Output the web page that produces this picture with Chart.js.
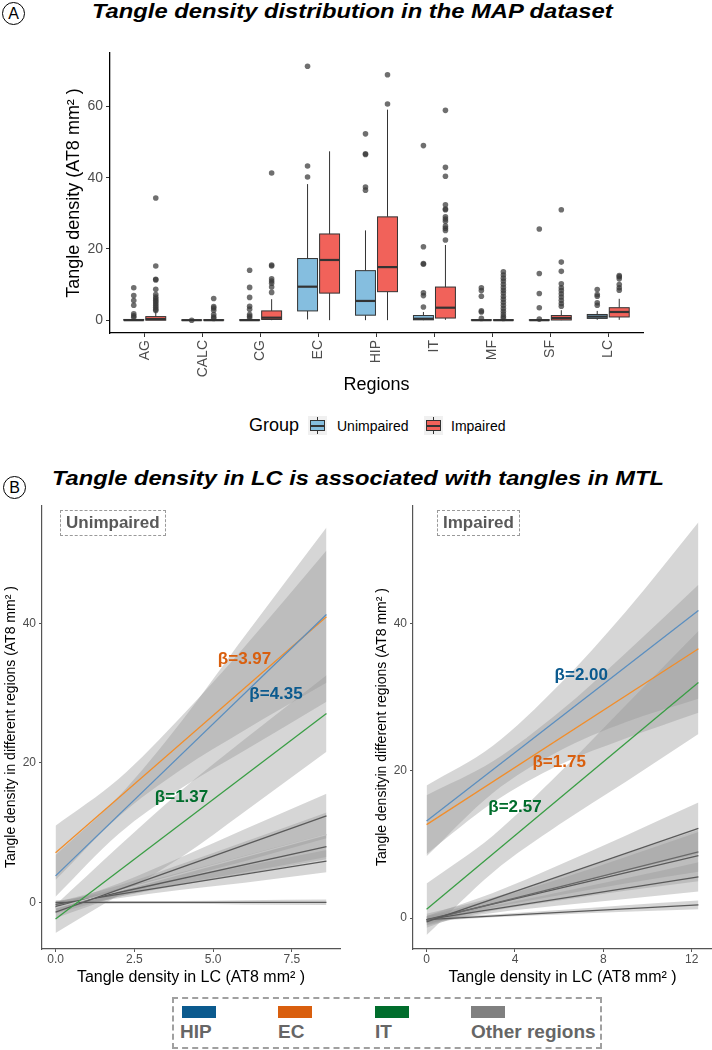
<!DOCTYPE html>
<html>
<head>
<meta charset="utf-8">
<script src="https://cdn.jsdelivr.net/npm/chart.js@4.4.1/dist/chart.umd.min.js"></script>
<style>
  body { margin: 0; background: #fff; font-family: "Liberation Sans", Arial, sans-serif; }
  #page { position: relative; width: 712px; height: 1050px; overflow: hidden; background: #fff; }
  canvas { position: absolute; }
  .circ { position: absolute; width: 21px; height: 21px; border: 1px solid #000; border-radius: 50%;
          font-size: 16px; line-height: 21px; text-align: center; }
  .title { position: absolute; font-weight: bold; font-style: italic; font-size: 21px; line-height: 22px;
           white-space: nowrap; transform-origin: 0 0; }
  .txt { position: absolute; white-space: nowrap; }
  .key { position: absolute; width: 19px; height: 19px; background: #f0f0f0; }
  .key .wh { position: absolute; left: 9px; top: 1px; width: 1px; height: 17px; background: #333; }
  .key .bx { position: absolute; left: 2px; top: 4px; width: 13px; height: 9px; border: 1px solid #333; }
  .key .md { position: absolute; left: 2px; top: 9px; width: 15px; height: 1.5px; background: #333; }
  .tag { position: absolute; border: 1.3px dashed #9a9a9a; color: #595959; font-weight: bold;
         font-size: 17px; line-height: 20px; padding: 2px 5px; white-space: nowrap; }
  .legbox { position: absolute; left: 172px; top: 997px; width: 426px; height: 48px; border: 2px dashed #a0a0a0; }
  .sw { position: absolute; width: 34px; height: 12px; top: 1006px; }
  .lab { position: absolute; top: 1021px; font-weight: bold; font-size: 19px; color: #666; white-space: nowrap; }
</style>
</head>
<body>
<div id="page">
  <div class="circ" style="left:2px;top:2px;">A</div>
  <div class="title" id="titleA" style="left:92px;top:0px;">Tangle density distribution in the MAP dataset</div>
  <canvas id="boxChart" width="712" height="360" style="left:0;top:40px;"></canvas>

  <div class="txt" style="left:249px;top:415px;font-size:18px;">Group</div>
  <div class="key" style="left:308px;top:416px;"><div class="wh"></div><div class="bx" style="background:#85BEDF"></div><div class="md"></div></div>
  <div class="txt" style="left:337px;top:418px;font-size:14px;">Unimpaired</div>
  <div class="key" style="left:424px;top:416px;"><div class="wh"></div><div class="bx" style="background:#F1625A"></div><div class="md"></div></div>
  <div class="txt" style="left:451px;top:418px;font-size:14px;">Impaired</div>

  <div class="circ" style="left:3px;top:476px;">B</div>
  <div class="title" id="titleB" style="left:52px;top:467px;">Tangle density in LC is associated with tangles in MTL</div>
  <canvas id="unimpChart" width="360" height="495" style="left:0;top:495px;"></canvas>
  <canvas id="impChart" width="352" height="495" style="left:360px;top:495px;"></canvas>
  <div class="tag" style="left:60px;top:510px;">Unimpaired</div>
  <div class="tag" style="left:437px;top:510px;">Impaired</div>

  <div class="legbox"></div>
  <div class="sw" style="left:182px;background:#0B5A8E;"></div>
  <div class="sw" style="left:278px;background:#D95F0E;"></div>
  <div class="sw" style="left:375px;background:#006D2C;"></div>
  <div class="sw" style="left:471px;background:#808080;"></div>
  <div class="lab" style="left:180px;">HIP</div>
  <div class="lab" style="left:278px;">EC</div>
  <div class="lab" style="left:375px;">IT</div>
  <div class="lab" style="left:471px;">Other regions</div>
</div>

<script>
// ---- Panel A: box plot statistics per region ----
const regions = ['AG', 'CALC', 'CG', 'EC', 'HIP', 'IT', 'MF', 'SF', 'LC'];

const unimpLow  = [0, 0, 0, 0.2, 0, 0, 0, 0, 0.1];
const unimpQ1   = [0, 0, 0, 2.6, 1.4, 0.1, 0, 0, 0.5];
const unimpMed  = [0, 0, 0, 9.4, 5.4, 0.4, 0, 0, 1.0];
const unimpQ3   = [0.2, 0.05, 0.1, 17.3, 13.9, 1.3, 0.1, 0.1, 1.6];
const unimpHigh = [0.4, 0.1, 0.2, 38.2, 25.2, 2.3, 0.2, 0.2, 2.6];

const impLow  = [0, 0, 0, 0, 0, 0.1, 0, 0, 0.1];
const impQ1   = [0, 0, 0.2, 7.6, 8.0, 0.6, 0, 0.05, 0.9];
const impMed  = [0.3, 0, 0.7, 16.9, 14.9, 3.5, 0, 0.6, 2.3];
const impQ3   = [1.0, 0.1, 2.6, 24.2, 29.0, 9.3, 0.1, 1.3, 3.5];
const impHigh = [2.4, 0.2, 5.9, 47.4, 59.1, 21.1, 0.2, 2.8, 6.0];

const unimpOutliers = [
  [9.1, 6.9, 5.5, 4.2, 1.8, 1.2, 0.8],
  [0],
  [14.0, 9.2, 6.4, 3.9, 3.1, 1.6, 1.1, 0.6],
  [40.2, 43.3, 71.3],
  [52.3, 46.7, 46.5, 37.4, 36.5],
  [3.7, 6.9, 7.7, 15.9, 15.7, 20.6, 49.0],
  [9.1, 8.3, 6.7, 2.6, 2.3, 0.5],
  [25.6, 13.1, 7.5, 3.5, 0.3],
  [8.6, 7.2, 6.7, 4.9, 4.2]
];
const impOutliers = [
  [34.3, 15.2, 11.5, 11.3, 8.7, 7.2, 6.5, 6.0, 5.5, 5.1, 4.6, 4.1, 3.6, 3.1, 2.7],
  [6.1, 3.8, 3.4, 2.8, 1.6, 0.9, 0.5],
  [41.3, 15.5, 15.2, 11.6, 11.0, 10.4, 9.3, 7.8],
  [],
  [60.7, 68.9],
  [22.5, 25.2, 25.8, 26.4, 27.8, 28.4, 29.0, 31.0, 31.2, 32.4, 40.4, 42.9, 58.9],
  [13.6, 12.7, 11.8, 11.0, 10.1, 9.2, 8.4, 7.6, 6.7, 5.9, 5.0, 4.2, 3.3, 2.5, 1.7, 1.0, 0.5],
  [31.0, 16.3, 13.7, 10.2, 9.1, 8.3, 7.4, 6.5, 5.6, 4.7, 3.9],
  [12.5, 12.2, 11.6, 10.0, 9.1, 8.4]
];
const boxTicks = [0, 20, 40, 60];

// ---- Panel B: fitted lines and confidence bands ----
// order: HIP, EC, IT, then five other regions
const unimpX = [0, 2, 4, 6, 8.6];
const unimpFitStart = [3.8, 7.1, -2.4, -1.4, -0.8, -0.6, -0.3, 0];
const unimpFitEnd   = [41.3, 41.0, 27.1, 12.4, 9.7, 8.0, 5.9, 0];
const unimpBandLow = [
  [0.8, 9.8, 16.4, 21.8, 28.8],
  [3.2, 12.3, 19.1, 24.7, 31.5],
  [-4.4, 1.0, 6.5, 13.0, 21.6],
  [-2.3, 0.9, 3.5, 5.9, 9.2],
  [-1.6, 0.8, 2.7, 4.3, 6.5],
  [-1.2, 0.8, 2.5, 4.1, 6.2],
  [-0.8, 0.6, 1.8, 2.8, 4.3],
  [-0.3, -0.2, -0.2, -0.3, -0.4]
];
const unimpBandHigh = [
  [6.8, 15.2, 26.0, 38.2, 53.8],
  [11.0, 17.7, 26.7, 36.7, 50.5],
  [-0.4, 8.0, 16.1, 23.4, 32.6],
  [-0.5, 2.7, 6.5, 10.5, 15.6],
  [0, 2.4, 5.5, 8.7, 12.9],
  [0, 2.0, 4.3, 6.7, 9.8],
  [0.2, 1.6, 3.4, 5.2, 7.5],
  [0.3, 0.2, 0.2, 0.3, 0.4]
];

const impX = [0, 3, 6, 9, 12.3];
const impFitStart = [13.2, 12.7, 1.2, -0.5, -0.3, -0.2, -0.2, -0.2];
const impFitEnd   = [41.8, 36.6, 32.0, 12.2, 9.0, 8.5, 5.6, 1.8];
const impBandLow = [
  [8.4, 17.0, 22.7, 26.6, 29.8],
  [8.7, 15.7, 20.8, 24.4, 27.9],
  [-2.3, 6.2, 12.7, 18.5, 25.0],
  [-1.3, 1.8, 4.2, 6.4, 8.7],
  [-0.9, 1.4, 3.1, 4.7, 6.3],
  [-1.0, 1.0, 2.4, 3.7, 5.0],
  [-0.7, 0.7, 1.7, 2.6, 3.6],
  [-0.5, 0.1, 0.5, 0.85, 1.2]
];
const impBandHigh = [
  [18.0, 23.4, 31.7, 41.6, 53.8],
  [16.7, 21.3, 28.0, 36.0, 45.3],
  [4.7, 11.2, 19.7, 28.9, 39.0],
  [0.3, 3.4, 7.2, 11.2, 15.7],
  [0.3, 2.6, 5.3, 8.3, 11.7],
  [0.6, 2.8, 5.6, 8.7, 12.0],
  [0.3, 1.7, 3.5, 5.4, 7.6],
  [0.1, 0.5, 1.1, 1.75, 2.4]
];

const unimpBetaText = ['β=4.35', 'β=3.97', 'β=1.37'];
const unimpBetaAt = [[7.0, 29.9], [6.0, 34.9], [4.0, 15.1]];
const impBetaText = ['β=2.00', 'β=1.75', 'β=2.57'];
const impBetaAt = [[7.0, 33.0], [6.0, 21.1], [4.0, 15.0]];

const unimpXTicks = [0, 2.5, 5, 7.5];
const impXTicks = [0, 4, 8, 12];
const fitYTicks = [0, 20, 40];

// styles
const betaColors = ['#0B5A8E', '#D95F0E', '#006D2C'];
const unimpLineColors = ['#5B8FC0', '#F28E2B', '#3A9E45', '#5a5a5a', '#c4c4c4', '#5a5a5a', '#5a5a5a', '#5a5a5a'];
const impLineColors = ['#5B8FC0', '#F28E2B', '#3A9E45', '#5a5a5a', '#6a6a6a', '#5a5a5a', '#5a5a5a', '#5a5a5a'];
const bandFill = 'rgba(153,153,153,0.4)';
const FONT = '"Liberation Sans", Arial, sans-serif';

Chart.defaults.font.family = FONT;
Chart.defaults.animation = false;

// stretch the two panel titles to the width they take in the figure
function fitTitle(id, width) {
  const el = document.getElementById(id);
  el.style.transform = 'scaleX(' + (width / el.offsetWidth) + ')';
}
fitTitle('titleA', 520);
fitTitle('titleB', 612);

// ---- Panel A ----
const groups = [
  { shift: -0.19, fill: '#85BEDF', low: unimpLow, q1: unimpQ1, med: unimpMed, q3: unimpQ3, high: unimpHigh },
  { shift: 0.19, fill: '#F1625A', low: impLow, q1: impQ1, med: impMed, q3: impQ3, high: impHigh }
];

const boxPlugin = {
  id: 'boxes',
  afterDatasetsDraw(chart) {
    const { ctx, scales: { x, y } } = chart;
    const half = x.getPixelForValue(0.172) - x.getPixelForValue(0);
    ctx.save();
    ctx.strokeStyle = '#333';
    groups.forEach(g => {
      regions.forEach((r, i) => {
        const cx = x.getPixelForValue(i + g.shift);
        const yLow = y.getPixelForValue(g.low[i]);
        const yQ1 = y.getPixelForValue(g.q1[i]);
        const yMed = y.getPixelForValue(g.med[i]);
        const yQ3 = y.getPixelForValue(g.q3[i]);
        const yHigh = y.getPixelForValue(g.high[i]);
        ctx.lineWidth = 1;
        ctx.beginPath();
        ctx.moveTo(cx, yLow); ctx.lineTo(cx, yQ1);
        ctx.moveTo(cx, yQ3); ctx.lineTo(cx, yHigh);
        ctx.stroke();
        ctx.fillStyle = g.fill;
        ctx.fillRect(cx - half, yQ3, 2 * half, yQ1 - yQ3);
        ctx.strokeRect(cx - half, yQ3, 2 * half, yQ1 - yQ3);
        ctx.lineWidth = 2.2;
        ctx.beginPath();
        ctx.moveTo(cx - half, yMed); ctx.lineTo(cx + half, yMed);
        ctx.stroke();
      });
    });
    ctx.restore();
  }
};

function outlierPoints(list, shift) {
  const pts = [];
  list.forEach((vals, i) => vals.forEach(v => pts.push({ x: i + shift, y: v })));
  return pts;
}

new Chart(document.getElementById('boxChart'), {
  type: 'scatter',
  data: {
    datasets: [
      { data: outlierPoints(unimpOutliers, -0.19), pointRadius: 2.8, backgroundColor: 'rgba(55,55,55,0.72)', borderWidth: 0 },
      { data: outlierPoints(impOutliers, 0.19), pointRadius: 2.8, backgroundColor: 'rgba(55,55,55,0.72)', borderWidth: 0 }
    ]
  },
  options: {
    responsive: false,
    events: [],
    layout: { padding: { left: 0, right: 69, top: 13, bottom: 0 } },
    plugins: { legend: { display: false }, tooltip: { enabled: false } },
    scales: {
      x: {
        type: 'linear', min: -0.6, max: 8.6,
        afterBuildTicks: s => { s.ticks = regions.map((r, i) => ({ value: i })); },
        afterFit: s => { s.height = 67; },
        ticks: { callback: v => regions[v], minRotation: 90, maxRotation: 90, autoSkip: false,
                 color: '#4d4d4d', font: { size: 14 }, padding: 3 },
        grid: { display: true, drawOnChartArea: false, drawTicks: true, tickLength: 4, color: '#333' },
        border: { display: true, color: '#000', width: 1.3 },
        title: { display: true, text: 'Regions', color: '#000', font: { size: 18 }, padding: { top: 0, bottom: 4 } }
      },
      y: {
        min: -3.6, max: 75,
        afterBuildTicks: s => { s.ticks = boxTicks.map(v => ({ value: v })); },
        afterFit: s => { s.width = 110; },
        ticks: { color: '#4d4d4d', font: { size: 14 }, padding: 3 },
        grid: { display: true, drawOnChartArea: false, drawTicks: true, tickLength: 4, color: '#333' },
        border: { display: true, color: '#000', width: 1.3 },
        title: { display: true, text: 'Tangle density (AT8 mm² )', color: '#000', font: { size: 18 }, padding: { top: 63, bottom: 0 } }
      }
    }
  },
  plugins: [boxPlugin]
});

// ---- Panel B ----
function fitDatasets(xs, starts, ends, lows, highs, colors) {
  const xEnd = xs[xs.length - 1];
  const sets = [];
  starts.forEach((s, i) => {
    sets.push({ data: [{ x: 0, y: s }, { x: xEnd, y: ends[i] }], borderColor: colors[i], borderWidth: 1.3,
                pointRadius: 0, fill: false, order: 0 });
  });
  lows.forEach((lo, i) => {
    sets.push({ data: xs.map((x, k) => ({ x, y: lo[k] })), borderWidth: 0, pointRadius: 0, fill: false,
                order: 1, cubicInterpolationMode: 'monotone' });
    sets.push({ data: xs.map((x, k) => ({ x, y: highs[i][k] })), borderWidth: 0, pointRadius: 0, fill: '-1',
                backgroundColor: bandFill, order: 1, cubicInterpolationMode: 'monotone' });
  });
  return sets;
}

function betaPlugin(texts, at) {
  return {
    id: 'beta',
    afterDatasetsDraw(chart) {
      const { ctx, scales: { x, y } } = chart;
      ctx.save();
      ctx.font = 'bold 17px ' + FONT;
      ctx.textAlign = 'center';
      ctx.textBaseline = 'middle';
      texts.forEach((t, i) => {
        ctx.fillStyle = betaColors[i];
        ctx.fillText(t, x.getPixelForValue(at[i][0]), y.getPixelForValue(at[i][1]));
      });
      ctx.restore();
    }
  };
}

function fitChart(id, xs, starts, ends, lows, highs, colors, opts) {
  new Chart(document.getElementById(id), {
    type: 'line',
    data: { datasets: fitDatasets(xs, starts, ends, lows, highs, colors) },
    options: {
      responsive: false,
      events: [],
      layout: { padding: { left: 0, right: opts.right, top: 8, bottom: 0 } },
      plugins: { legend: { display: false }, tooltip: { enabled: false } },
      scales: {
        x: {
          type: 'linear', min: opts.xMin, max: opts.xMax,
          afterBuildTicks: s => { s.ticks = opts.xTicks.map(v => ({ value: v })); },
          afterFit: s => { s.height = 41; },
          ticks: { callback: opts.xFmt, color: '#4d4d4d', font: { size: 12 }, padding: 0, maxRotation: 0 },
          grid: { display: true, drawOnChartArea: false, drawTicks: true, tickLength: 3, color: '#555' },
          border: { display: true, color: '#555', width: 1.2 },
          title: { display: true, text: 'Tangle density in LC (AT8 mm² )', color: '#000', font: { size: 16 }, padding: { top: 0, bottom: 3 } }
        },
        y: {
          min: opts.yMin, max: opts.yMax,
          afterBuildTicks: s => { s.ticks = fitYTicks.map(v => ({ value: v })); },
          afterFit: s => { s.width = opts.yWidth; },
          ticks: { color: '#4d4d4d', font: { size: 12 }, padding: 3 },
          grid: { display: true, drawOnChartArea: false, drawTicks: true, tickLength: 3, color: '#555' },
          border: { display: true, color: '#555', width: 1.2 },
          title: { display: true, text: opts.yTitle, color: '#000', font: { size: 14 }, padding: { top: opts.yTitlePad, bottom: 0 } }
        }
      }
    },
    plugins: [betaPlugin(opts.betaText, opts.betaAt)]
  });
}

fitChart('unimpChart', unimpX, unimpFitStart, unimpFitEnd, unimpBandLow, unimpBandHigh, unimpLineColors, {
  right: 20, xMin: -0.43, xMax: 9.03, xTicks: unimpXTicks, xFmt: v => v.toFixed(1),
  yMin: -6.7, yMax: 57.0, yWidth: 42, yTitlePad: 3,
  yTitle: 'Tangle density in different regions (AT8 mm² )',
  betaText: unimpBetaText, betaAt: unimpBetaAt
});

fitChart('impChart', impX, impFitStart, impFitEnd, impBandLow, impBandHigh, impLineColors, {
  right: 0, xMin: -0.615, xMax: 12.915, xTicks: impXTicks, xFmt: v => String(v),
  yMin: -4.2, yMax: 56.1, yWidth: 53, yTitlePad: 14,
  yTitle: 'Tangle densityin different regions (AT8 mm² )',
  betaText: impBetaText, betaAt: impBetaAt
});
</script>
</body>
</html>
